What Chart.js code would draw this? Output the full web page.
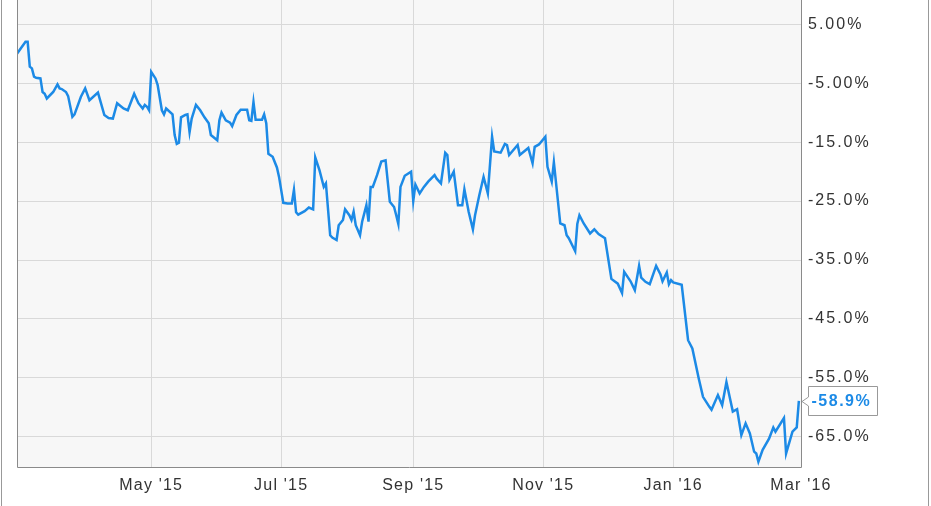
<!DOCTYPE html>
<html>
<head>
<meta charset="utf-8">
<script src="https://cdn.jsdelivr.net/npm/chart.js@4.4.1/dist/chart.umd.min.js"></script>
<style>
  html, body { margin: 0; padding: 0; background: #fff; }
  #wrap { width: 931px; height: 506px; position: relative; }
</style>
</head>
<body>
<div id="wrap"><canvas id="chart" width="931" height="506"></canvas></div>
<script>
/* ===== DATA ===== */
// trading day offsets from 27 Feb 2015
const days = [
  0, 4, 5, 6, 7, 8, 9, 11, 12, 13, 14, 17, 19, 20, 21, 23, 24, 26, 27, 30,
  32, 34, 38, 41, 43, 45, 47, 48, 50, 52, 55, 57, 59, 60, 61, 62, 63, 65, 66, 68,
  69, 70, 73, 74, 75, 76, 77, 79, 80, 81, 82, 84, 86, 88, 90, 91, 93, 94, 95, 96,
  98, 100, 101, 103, 105, 108, 109, 110, 111, 112, 115, 116, 117, 118, 120, 122, 123, 125, 127, 129,
  130, 131, 132, 135, 137, 139, 140, 142, 144, 145, 147, 148, 150, 151, 153, 154, 156, 157, 158, 159,
  161, 162, 164, 165, 166, 167, 169, 171, 173, 175, 177, 178, 179, 180, 182, 185, 186, 187, 189, 191,
  193, 196, 197, 199, 201, 202, 203, 205, 207, 209, 210, 212, 214, 215, 217, 219, 221, 223, 224, 227,
  229, 230, 231, 235, 236, 240, 242, 243, 245, 248, 249, 251, 252, 255, 257, 258, 259, 262, 263, 264,
  266, 269, 271, 273, 276, 279, 282, 284, 285, 288, 290, 292, 293, 295, 297, 300, 302, 303, 305, 306,
  307, 308, 312, 315, 317, 320, 322, 325, 326, 329, 331, 333, 336, 338, 340, 342, 344, 346, 347, 348,
  350, 353, 355, 356, 360, 361, 364, 366, 367
];

// total return, %
const returns = [
  0.0, 2.0, 2.0, -2.2, -2.5, -3.9, -4.1, -4.2, -6.5, -6.8, -7.6, -6.5, -5.2, -5.9, -6.0, -6.5, -7.2, -10.7, -10.3, -7.3,
  -5.9, -7.9, -6.6, -10.4, -10.9, -11.0, -8.4, -8.7, -9.3, -9.6, -6.8, -8.4, -9.3, -8.7, -9.0, -9.6, -3.1, -4.2, -5.3, -9.6,
  -10.3, -9.3, -10.3, -13.8, -15.3, -15.1, -10.8, -10.4, -10.3, -13.3, -11.0, -8.7, -9.6, -10.8, -11.8, -13.8, -14.4, -14.7, -11.3, -10.0,
  -11.3, -11.7, -12.3, -10.4, -9.5, -9.5, -11.3, -11.4, -8.2, -11.2, -11.2, -10.3, -11.8, -17.0, -17.5, -19.3, -20.9, -25.3, -25.4, -25.4,
  -23.1, -26.9, -27.3, -26.7, -26.1, -26.4, -17.6, -19.8, -22.6, -22.0, -30.8, -31.2, -31.6, -29.1, -28.2, -26.4, -27.4, -28.2, -26.8, -29.1,
  -30.8, -28.5, -25.7, -28.5, -22.6, -22.6, -20.6, -18.3, -18.1, -25.1, -26.0, -27.4, -28.9, -22.6, -20.7, -20.0, -25.0, -22.2, -23.7, -22.6,
  -21.7, -20.6, -21.2, -22.0, -16.8, -17.2, -21.4, -20.0, -25.7, -25.7, -23.0, -26.8, -29.8, -27.4, -24.0, -20.9, -23.7, -14.1, -16.6, -16.8,
  -15.3, -15.5, -17.2, -15.5, -17.2, -16.0, -18.6, -15.8, -15.4, -14.1, -19.2, -21.7, -18.4, -28.8, -29.1, -30.8, -31.3, -33.5, -28.9, -27.4,
  -28.8, -30.5, -29.8, -30.6, -31.3, -38.2, -39.0, -40.6, -37.0, -38.6, -40.1, -36.0, -38.0, -38.7, -39.1, -36.0, -37.4, -38.6, -37.1, -39.1,
  -38.4, -38.8, -39.2, -48.6, -50.0, -55.1, -58.2, -59.9, -60.4, -57.9, -59.6, -55.7, -60.7, -60.3, -64.7, -62.7, -64.4, -67.5, -67.8, -69.2,
  -67.2, -65.3, -63.4, -64.1, -61.8, -67.8, -64.1, -63.4, -58.9
];

const monthTicks = [63, 124, 186, 247, 308, 368];
const monthLabels = ["May '15", "Jul '15", "Sep '15", "Nov '15", "Jan '16", "Mar '16"];

const yTicks = [5, -5, -15, -25, -35, -45, -55, -65];
const yLabels = ["5.00%", "-5.00%", "-15.0%", "-25.0%", "-35.0%", "-45.0%", "-55.0%", "-65.0%"];

const lastLabel = "-58.9%";

const points = days.map((d, i) => ({ x: d, y: returns[i] }));

const blue = "#1c8ae6";
const gridColor = "#d9d9d9";
const fontFamily = "'Liberation Sans', Arial, sans-serif";

/* ===== PLUGIN: plot background, borders, end label ===== */
const decor = {
  id: "decor",
  beforeDraw(chart) {
    const { ctx, chartArea: a } = chart;
    ctx.save();
    ctx.fillStyle = "#f7f7f7";
    ctx.fillRect(a.left, a.top, a.right - a.left, a.bottom - a.top);
    ctx.restore();
    ctx.letterSpacing = "2px";

    // x labels a bit tighter than the y labels
    const sx = chart.scales.x;
    if (!sx._spaced) {
      const orig = sx.drawLabels.bind(sx);
      sx.drawLabels = (area) => {
        chart.ctx.letterSpacing = "1.2px";
        orig(area);
        chart.ctx.letterSpacing = "2px";
      };
      sx._spaced = true;
    }
  },
  afterDraw(chart) {
    const { ctx, chartArea: a } = chart;
    ctx.save();
    ctx.lineWidth = 1;
    // plot frame
    ctx.strokeStyle = "#8a8a8a";
    ctx.beginPath();
    ctx.moveTo(a.left + 0.5, a.top);
    ctx.lineTo(a.left + 0.5, a.bottom + 0.5);
    ctx.lineTo(a.right + 0.5, a.bottom + 0.5);
    ctx.lineTo(a.right + 0.5, a.top);
    ctx.stroke();
    // outer frame lines
    ctx.strokeStyle = "#999999";
    ctx.beginPath();
    ctx.moveTo(1.5, 0);
    ctx.lineTo(1.5, 506);
    ctx.moveTo(928.5, 0);
    ctx.lineTo(928.5, 506);
    ctx.stroke();

    // last value box
    const meta = chart.getDatasetMeta(0);
    const last = meta.data[meta.data.length - 1];
    const px = Math.round(last.x);
    const py = Math.round(last.y);
    const bx = px + 9.5, by = py - 14.5, bw = 69, bh = 29;
    ctx.fillStyle = "#ffffff";
    ctx.strokeStyle = "#999999";
    ctx.beginPath();
    ctx.moveTo(bx, by);
    ctx.lineTo(bx + bw, by);
    ctx.lineTo(bx + bw, by + bh);
    ctx.lineTo(bx, by + bh);
    ctx.lineTo(bx, py + 5);
    ctx.lineTo(px + 3, py + 0.5);
    ctx.lineTo(bx, py - 4);
    ctx.closePath();
    ctx.fill();
    ctx.stroke();
    ctx.fillStyle = blue;
    ctx.font = "bold 16px " + fontFamily;
    ctx.letterSpacing = "1.5px";
    ctx.textAlign = "left";
    ctx.textBaseline = "middle";
    ctx.fillText(lastLabel, bx + 3, py + 1);
    ctx.restore();
  },
};

/* ===== CHART ===== */
const ctx = document.getElementById("chart").getContext("2d");
const chart = new Chart(ctx, {
  type: "line",
  data: {
    datasets: [
      {
        data: points,
        borderColor: blue,
        borderWidth: 2.5,
        pointRadius: 0,
        tension: 0,
        fill: false,
      },
    ],
  },
  options: {
    responsive: false,
    animation: false,
    devicePixelRatio: 1,
    layout: { padding: { left: 17, right: 0, top: 0, bottom: 0 } },
    plugins: { legend: { display: false }, tooltip: { enabled: false } },
    scales: {
      x: {
        type: "linear",
        min: 0,
        max: 368,
        afterBuildTicks: (scale) => {
          scale.ticks = monthTicks.map((v) => ({ value: v }));
        },
        afterFit: (scale) => {
          scale.height = 39;
          scale.paddingLeft = 0;
          scale.paddingRight = 0;
        },
        grid: { color: gridColor, drawTicks: false },
        border: { display: false },
        ticks: {
          autoSkip: false,
          maxRotation: 0,
          padding: 9,
          color: "#333333",
          font: { family: fontFamily, size: 16 },
          callback: (v, i) => monthLabels[i],
        },
      },
      y: {
        position: "right",
        min: -70.1,
        max: 9.1,
        afterBuildTicks: (scale) => {
          scale.ticks = yTicks.map((v) => ({ value: v }));
        },
        afterFit: (scale) => {
          scale.width = 130;
          scale.paddingTop = 0;
          scale.paddingBottom = 0;
        },
        grid: { color: gridColor, drawTicks: false },
        border: { display: false },
        ticks: {
          padding: 7,
          color: "#333333",
          font: { family: fontFamily, size: 16 },
          callback: (v, i) => yLabels[i],
        },
      },
    },
  },
  plugins: [decor],
});
</script>
</body>
</html>
